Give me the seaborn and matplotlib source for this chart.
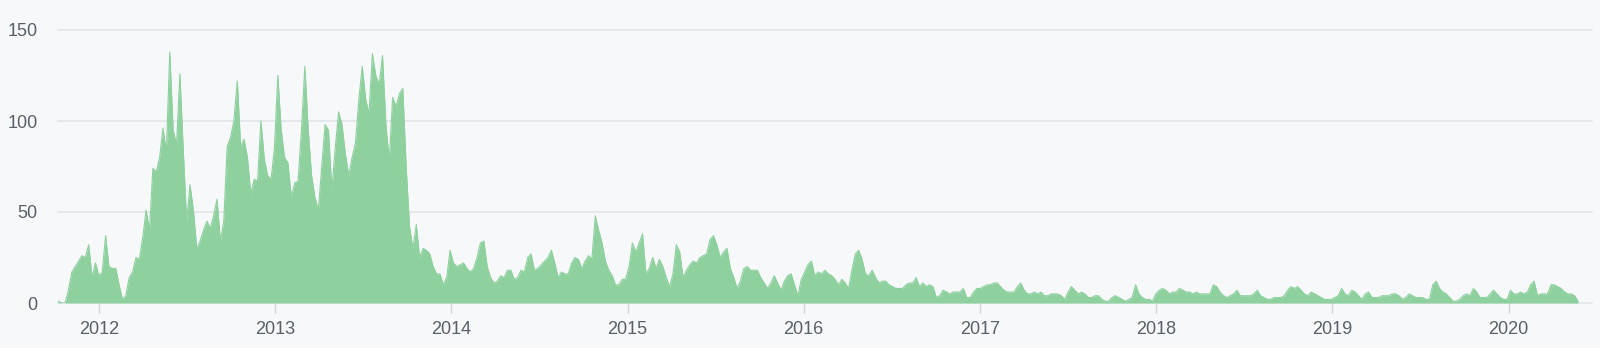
import matplotlib
matplotlib.use("Agg")
import matplotlib.pyplot as plt
import pandas as pd
import seaborn as sns

# ---- data (weekly commit counts) ----
start_week = "2011-10-09"
end_of_axis = "2020-06-22"
commits = [
    1, 0, 0, 7, 17, 20, 23, 26, 25, 32,
    14, 22, 15, 17, 37, 20, 19, 19, 10, 2,
    4, 14, 17, 25, 24, 36, 51, 40, 74, 72,
    80, 96, 83, 138, 95, 87, 126, 84, 45, 65,
    51, 30, 34, 40, 45, 41, 48, 57, 34, 45,
    86, 91, 100, 122, 86, 90, 80, 60, 68, 67,
    100, 79, 70, 68, 85, 125, 95, 80, 77, 58,
    66, 67, 95, 130, 95, 70, 58, 51, 75, 98,
    95, 62, 85, 105, 98, 82, 70, 80, 88, 112,
    130, 112, 104, 137, 125, 120, 136, 98, 78, 113,
    108, 115, 118, 75, 42, 30, 43, 25, 30, 29,
    27, 20, 16, 16, 10, 14, 29, 22, 20, 21,
    22, 19, 17, 19, 25, 33, 34, 20, 14, 11,
    12, 15, 14, 18, 18, 13, 14, 18, 17, 25,
    27, 18, 19, 21, 23, 25, 29, 22, 14, 17,
    16, 16, 22, 25, 24, 19, 23, 26, 24, 48,
    40, 33, 23, 18, 15, 10, 10, 13, 13, 20,
    33, 28, 33, 38, 16, 19, 25, 19, 24, 20,
    14, 9, 16, 32, 28, 14, 18, 21, 23, 22,
    25, 26, 27, 35, 37, 32, 25, 28, 30, 19,
    14, 8, 12, 19, 20, 18, 18, 18, 14, 11,
    8, 11, 15, 11, 7, 12, 15, 16, 10, 4,
    13, 17, 21, 23, 15, 17, 16, 18, 16, 15,
    13, 10, 13, 11, 8, 18, 27, 29, 24, 16,
    15, 18, 14, 11, 12, 12, 10, 9, 8, 8,
    8, 10, 11, 11, 14, 9, 11, 9, 10, 9,
    3, 4, 7, 6, 5, 6, 6, 6, 8, 3,
    3, 6, 8, 8, 9, 10, 10, 11, 11, 9,
    7, 6, 6, 6, 9, 11, 7, 5, 5, 6,
    5, 6, 4, 4, 5, 5, 5, 4, 2, 6,
    9, 7, 5, 6, 5, 3, 3, 4, 4, 2,
    1, 1, 3, 4, 3, 2, 1, 2, 3, 10,
    5, 3, 2, 2, 1, 5, 7, 8, 7, 5,
    6, 6, 8, 7, 6, 6, 5, 6, 5, 5,
    5, 5, 10, 9, 6, 4, 3, 4, 5, 7,
    4, 4, 4, 4, 5, 7, 4, 3, 2, 2,
    3, 3, 3, 4, 7, 9, 8, 9, 7, 5,
    4, 6, 5, 4, 3, 2, 2, 2, 3, 4,
    8, 5, 4, 7, 6, 4, 2, 5, 6, 3,
    3, 3, 4, 4, 4, 5, 5, 4, 2, 3,
    5, 4, 3, 3, 3, 2, 2, 10, 12, 8,
    6, 5, 3, 1, 1, 2, 4, 5, 4, 8,
    6, 3, 3, 3, 5, 7, 5, 3, 2, 2,
    7, 5, 5, 6, 5, 6, 10, 12, 4, 5,
    5, 5, 10, 10, 9, 8, 6, 5, 5, 4,
    1,
]
year_labels = ["2012", "2013", "2014", "2015", "2016", "2017", "2018", "2019", "2020"]
y_ticks = [0, 50, 100, 150]

# ---- style ----
bg = "#f6f8fa"
green = "#8ed09e"
grid = "#e1e4e8"
label_color = "#586069"

sns.set_theme(style="white")
plt.rcParams["font.family"] = ["Liberation Sans", "DejaVu Sans"]

dates = pd.date_range(start_week, periods=len(commits), freq="7D")
df = pd.DataFrame({"week": dates, "commits": commits})

W, H = 1600, 348
fig = plt.figure(figsize=(W / 100, H / 100), dpi=100, facecolor=bg)
left, right, top, bottom = 58.3, 1592, 30, 303
ax = fig.add_axes([left / W, 1 - bottom / H, (right - left) / W, (bottom - top) / H])
ax.set_facecolor(bg)

for v in y_ticks:
    ax.axhline(v, color=grid, lw=1.2, zorder=0, clip_on=False)

ax.fill_between(df["week"], 0, df["commits"], color=green, lw=0, zorder=2)
sns.lineplot(data=df, x="week", y="commits", color=green, lw=0.8, ax=ax, zorder=3)

ax.set_xlim(pd.Timestamp(start_week), pd.Timestamp(end_of_axis))
ax.set_ylim(0, 150)

ax.set_xticks([pd.Timestamp(f"{y}-01-01") for y in year_labels])
ax.set_xticklabels(year_labels)
ax.set_yticks(y_ticks)
ax.set_yticklabels([str(v) for v in y_ticks])

ax.tick_params(axis="x", length=7, width=1, color="#d1d5da", pad=6,
               labelsize=13, labelcolor=label_color, bottom=True)
ax.tick_params(axis="y", length=0, pad=15, labelsize=13, labelcolor=label_color, left=True)

for s in ax.spines.values():
    s.set_visible(False)
ax.set_xlabel("")
ax.set_ylabel("")
ax.grid(False)

fig.savefig("out.png", dpi=100, facecolor=bg)
